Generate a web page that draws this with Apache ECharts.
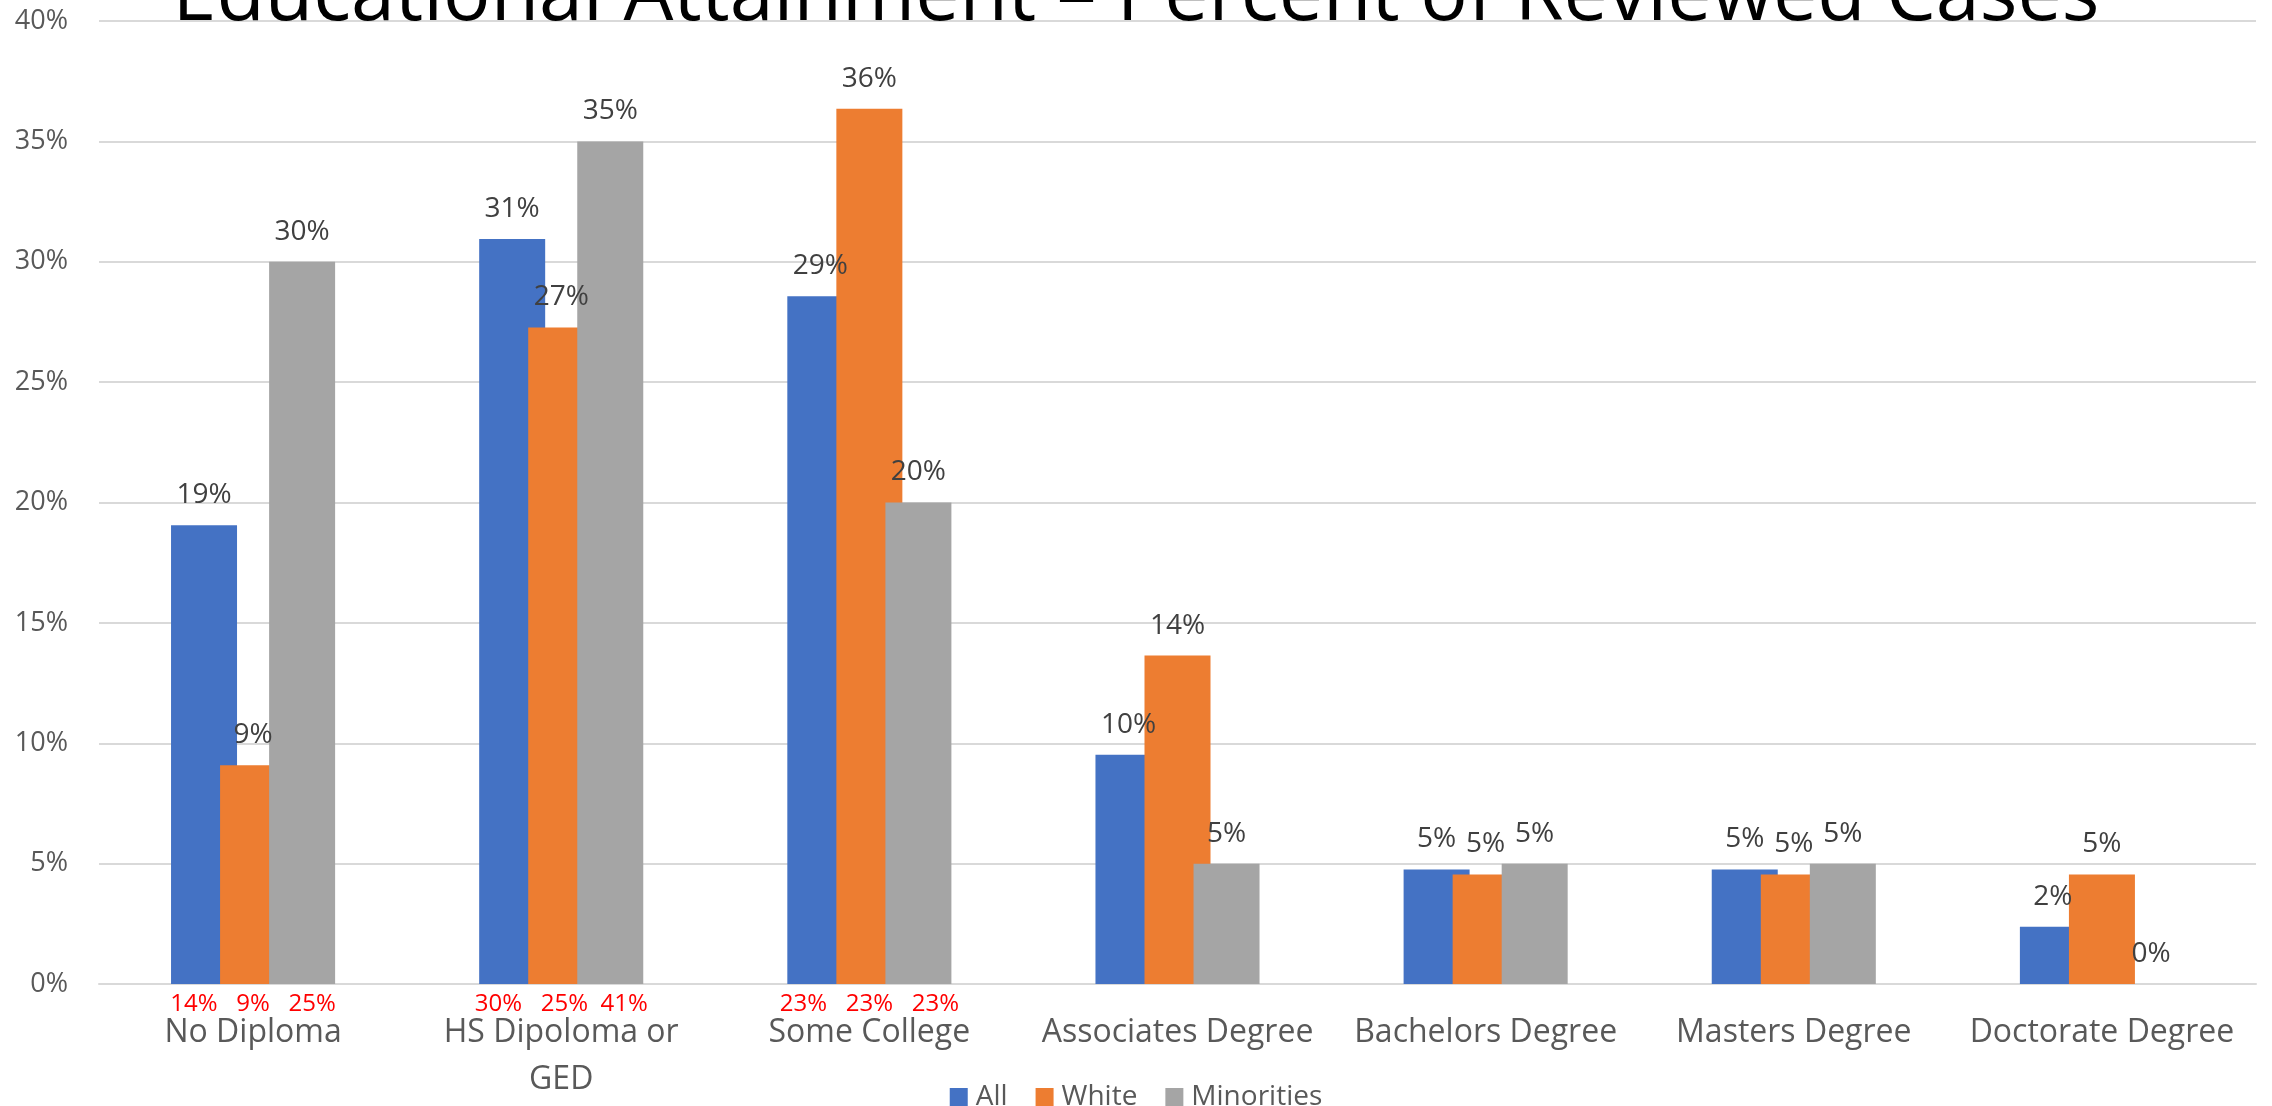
<!DOCTYPE html>
<html>
<head>
<meta charset="utf-8">
<script src="https://cdn.jsdelivr.net/npm/echarts@6/dist/echarts.min.js"></script>
<style>
html, body { margin: 0; padding: 0; background: #fff; }
#main { width: 2272px; height: 1106px; }
</style>
</head>
<body>
<div id="main"></div>
<script>
// categories and values (percent)
var categories = ['No Diploma', 'HS Dipoloma or\nGED', 'Some College', 'Associates Degree', 'Bachelors Degree', 'Masters Degree', 'Doctorate Degree'];
var allValues = [19.05, 30.95, 28.57, 9.52, 4.76, 4.76, 2.38];
var whiteValues = [9.09, 27.27, 36.36, 13.64, 4.55, 4.55, 4.55];
var minorityValues = [30, 35, 20, 5, 5, 5, 0];
// red notes typed under the first three groups
var redNotes = ['14%   9%   25%', '30%   25%  41%', '23%   23%   23%', '', '', '', ''];
var seriesNames = ['All', 'White', 'Minorities'];
var colors = ['#4472C4', '#ED7D31', '#A5A5A5'];

var font = 'Open Sans';

function barSeries(name, values, color) {
	return {
		name: name,
		type: 'bar',
		data: values,
		barWidth: 66,
		barGap: '-25.7%',
		itemStyle: { color: color },
		label: {
			show: true,
			position: 'top',
			distance: 16,
			fontSize: 28,
			fontFamily: font,
			color: '#404040',
			formatter: function (p) { return Math.round(p.value) + '%'; }
		}
	};
}

var myChart = echarts.init(document.getElementById('main'));
myChart.setOption({
	animation: false,
	color: colors,
	title: {
		text: 'Educational Attainment \u2013 Percent of Reviewed Cases',
		left: 'center',
		top: -47,
		textStyle: { fontSize: 79, fontWeight: 'normal', color: '#000', fontFamily: font }
	},
	legend: {
		data: seriesNames,
		left: 'center',
		top: 1078,
		icon: 'rect',
		itemWidth: 18,
		itemHeight: 18,
		itemGap: 28,
		textStyle: { fontSize: 28, color: '#595959', fontFamily: font, padding: [0, 0, 0, 3] }
	},
	grid: { left: 99, right: 16, top: 21, bottom: 122, containLabel: false },
	xAxis: [{
		type: 'category',
		data: categories,
		axisLine: { lineStyle: { color: '#d9d9d9', width: 2 } },
		axisTick: { show: false },
		axisLabel: { interval: 0, fontSize: 32, lineHeight: 47, margin: 25, color: '#595959', fontFamily: font }
	}, {
		type: 'category',
		data: redNotes,
		position: 'bottom',
		axisLine: { show: false },
		axisTick: { show: false },
		axisLabel: { interval: 0, fontSize: 24, lineHeight: 26, margin: 7, color: '#FF0000', fontFamily: font }
	}],
	yAxis: {
		type: 'value',
		min: 0,
		max: 40,
		interval: 5,
		axisLine: { show: false },
		axisTick: { show: false },
		splitLine: { lineStyle: { color: '#d9d9d9', width: 2 } },
		axisLabel: { formatter: '{value}%', fontSize: 27, margin: 31, color: '#595959', fontFamily: font }
	},
	series: [
		barSeries(seriesNames[0], allValues, colors[0]),
		barSeries(seriesNames[1], whiteValues, colors[1]),
		barSeries(seriesNames[2], minorityValues, colors[2])
	]
});
</script>
</body>
</html>
